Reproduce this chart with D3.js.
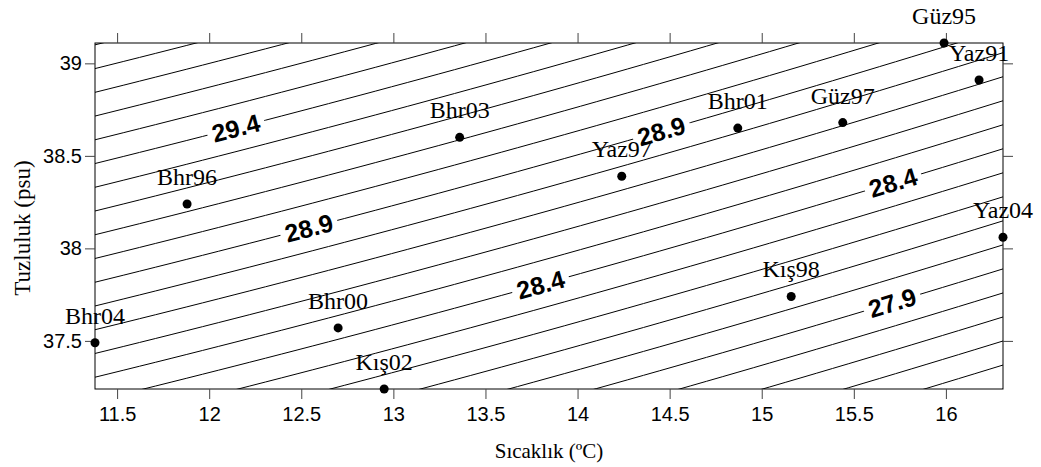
<!DOCTYPE html>
<html>
<head>
<meta charset="utf-8">
<script src="https://cdn.jsdelivr.net/npm/d3@7"></script>
<style>
  body { margin: 0; background: #fff; }
  svg { display: block; }
  .serif { font-family: "Liberation Serif", "Times New Roman", serif; }
  .sans { font-family: "Liberation Sans", Arial, sans-serif; }
</style>
</head>
<body>
<svg id="ts" width="1041" height="467"></svg>
<script>
// station data
var stations = ["Güz95", "Yaz91", "Bhr01", "Güz97", "Bhr03", "Yaz97", "Bhr96", "Yaz04", "Kış98", "Bhr00", "Bhr04", "Kış02"];
var temps    = [15.99, 16.18, 14.87, 15.44, 13.36, 14.24, 11.88, 16.31, 15.16, 12.70, 11.38, 12.95];
var salts    = [39.11, 38.91, 38.65, 38.68, 38.60, 38.39, 38.24, 38.06, 37.74, 37.57, 37.49, 37.24];

// sigma-t isolines
var levels = [27.3, 27.4, 27.5, 27.6, 27.7, 27.8, 27.9, 28.0, 28.1, 28.2, 28.3, 28.4, 28.5, 28.6,
              28.7, 28.8, 28.9, 29.0, 29.1, 29.2, 29.3, 29.4, 29.5, 29.6, 29.7, 29.8, 29.9, 30.0];
var labelLevels = [29.4, 28.9, 28.9, 28.4, 28.4, 27.9];
var labelTemps  = [12.145, 12.541, 14.455, 13.799, 15.713, 15.708];

var xTicks = [11.5, 12, 12.5, 13, 13.5, 14, 14.5, 15, 15.5, 16];
var yTicks = [37.5, 38, 38.5, 39];

var data = stations.map(function (d, i) { return {name: d, t: temps[i], s: salts[i]}; });

// UNESCO EOS-80 density at surface, minus 1000
function sigmaT(T, S) {
  var rw = 999.842594 + 6.793952e-2*T - 9.095290e-3*T*T + 1.001685e-4*Math.pow(T,3)
         - 1.120083e-6*Math.pow(T,4) + 6.536332e-9*Math.pow(T,5);
  var B = 8.24493e-1 - 4.0899e-3*T + 7.6438e-5*T*T - 8.2467e-7*Math.pow(T,3) + 5.3875e-9*Math.pow(T,4);
  var C = -5.72466e-3 + 1.0227e-4*T - 1.6546e-6*T*T;
  var D = 4.8314e-4;
  return rw + B*S + C*Math.pow(S,1.5) + D*S*S - 1000;
}
// salinity on the isoline at a given temperature
function solveS(level, T) {
  var lo = 30, hi = 45;
  for (var k = 0; k < 50; k++) {
    var mid = (lo + hi) / 2;
    if (sigmaT(T, mid) < level) lo = mid; else hi = mid;
  }
  return (lo + hi) / 2;
}

var svg = d3.select("#ts");
var pL = 95, pR = 1003, pT = 43, pB = 389;

var x = d3.scaleLinear().domain(d3.extent(temps)).range([pL, pR]);
var y = d3.scaleLinear().domain(d3.extent(salts)).range([pB, pT]);

var defs = svg.append("defs");
defs.append("clipPath").attr("id", "plotclip")
  .append("rect").attr("x", pL).attr("y", pT).attr("width", pR - pL).attr("height", pB - pT);

var contourG = svg.append("g").attr("clip-path", "url(#plotclip)");

// contour labels, measured before the masks are built
var labs = labelLevels.map(function (lv, i) {
  var T = labelTemps[i];
  var S = solveS(lv, T);
  var px = x(T), py = y(S);
  var dx = x(T + 0.05) - x(T - 0.05);
  var dy = y(solveS(lv, T + 0.05)) - y(solveS(lv, T - 0.05));
  var ang = Math.atan2(dy, dx) * 180 / Math.PI;
  return {level: lv, x: px, y: py, angle: ang};
});

var labelG = svg.append("g");
labelG.selectAll("text")
  .data(labs)
  .enter().append("text")
  .attr("transform", function (d) { return "translate(" + d.x + "," + d.y + ") rotate(" + d.angle + ")"; })
  .attr("text-anchor", "middle")
  .attr("dy", "0.36em")
  .style("font-family", "'Liberation Sans', Arial, Helvetica, sans-serif")
  .style("font-size", "25px")
  .style("font-weight", "bold")
  .attr("fill", "#000")
  .text(function (d) { return d3.format(".1f")(d.level); })
  .each(function (d) { d.w = this.getComputedTextLength(); });

// one mask per labelled level to break the line under its labels
levels.forEach(function (lv, i) {
  var mine = labs.filter(function (d) { return Math.abs(d.level - lv) < 1e-6; });
  if (!mine.length) return;
  var m = defs.append("mask").attr("id", "mask" + i).attr("maskUnits", "userSpaceOnUse")
    .attr("x", 0).attr("y", 0).attr("width", 1041).attr("height", 467);
  m.append("rect").attr("width", 1041).attr("height", 467).attr("fill", "#fff");
  mine.forEach(function (d) {
    m.append("rect")
      .attr("x", -d.w / 2 - 5).attr("y", -11).attr("width", d.w + 10).attr("height", 22)
      .attr("transform", "translate(" + d.x + "," + d.y + ") rotate(" + d.angle + ")")
      .attr("fill", "#000");
  });
});

var line = d3.line().x(function (d) { return x(d[0]); }).y(function (d) { return y(d[1]); });
var t0 = x.domain()[0] - 0.1, t1 = x.domain()[1] + 0.1;
var tSteps = d3.range(0, 61).map(function (k) { return t0 + k * (t1 - t0) / 60; });

levels.forEach(function (lv, i) {
  var pts = tSteps.map(function (T) { return [T, solveS(lv, T)]; });
  var p = contourG.append("path")
    .attr("d", line(pts))
    .attr("fill", "none")
    .attr("stroke", "#000")
    .attr("stroke-width", 1);
  if (labs.some(function (d) { return Math.abs(d.level - lv) < 1e-6; })) p.attr("mask", "url(#mask" + i + ")");
});

// frame
svg.append("rect")
  .attr("x", pL).attr("y", pT).attr("width", pR - pL).attr("height", pB - pT)
  .attr("fill", "none").attr("stroke", "#000").attr("stroke-width", 1);

// axes
var fmt = function (d) { return String(d); };
var gx = svg.append("g").attr("transform", "translate(0," + pB + ")")
  .call(d3.axisBottom(x).tickValues(xTicks).tickFormat(fmt).tickSize(10).tickPadding(8));
var gxt = svg.append("g").attr("transform", "translate(0," + pT + ")")
  .call(d3.axisTop(x).tickValues(xTicks).tickFormat("").tickSize(10));
var gy = svg.append("g").attr("transform", "translate(" + pL + ",0)")
  .call(d3.axisLeft(y).tickValues(yTicks).tickFormat(fmt).tickSize(10).tickPadding(3));
var gyr = svg.append("g").attr("transform", "translate(" + pR + ",0)")
  .call(d3.axisRight(y).tickValues(yTicks).tickFormat("").tickSize(10));

[gx, gxt, gy, gyr].forEach(function (g) {
  g.attr("font-family", null).attr("font-size", null);
  g.select(".domain").remove();
  g.selectAll("line").attr("stroke", "#444");
  g.selectAll("text").attr("class", "sans").style("font-size", "20px").attr("fill", "#000");
});

// stations
svg.append("g").selectAll("circle")
  .data(data)
  .enter().append("circle")
  .attr("cx", function (d) { return x(d.t); })
  .attr("cy", function (d) { return y(d.s); })
  .attr("r", 4.5)
  .attr("fill", "#000");

svg.append("g").selectAll("text")
  .data(data)
  .enter().append("text")
  .attr("x", function (d) { return x(d.t); })
  .attr("y", function (d) { return y(d.s) - 19; })
  .attr("text-anchor", "middle")
  .style("font-family", "'Liberation Serif', 'Times New Roman', Times, serif")
  .style("font-size", "24px")
  .text(function (d) { return d.name; });

// axis titles
svg.append("text")
  .attr("class", "serif")
  .attr("x", (pL + pR) / 2).attr("y", 458)
  .attr("text-anchor", "middle")
  .style("font-size", "21px")
  .text("Sıcaklık (ºC)");

svg.append("text")
  .attr("class", "serif")
  .attr("transform", "translate(30,228) rotate(-90)")
  .attr("text-anchor", "middle")
  .style("font-size", "23px")
  .text("Tuzluluk (psu)");
</script>
</body>
</html>
